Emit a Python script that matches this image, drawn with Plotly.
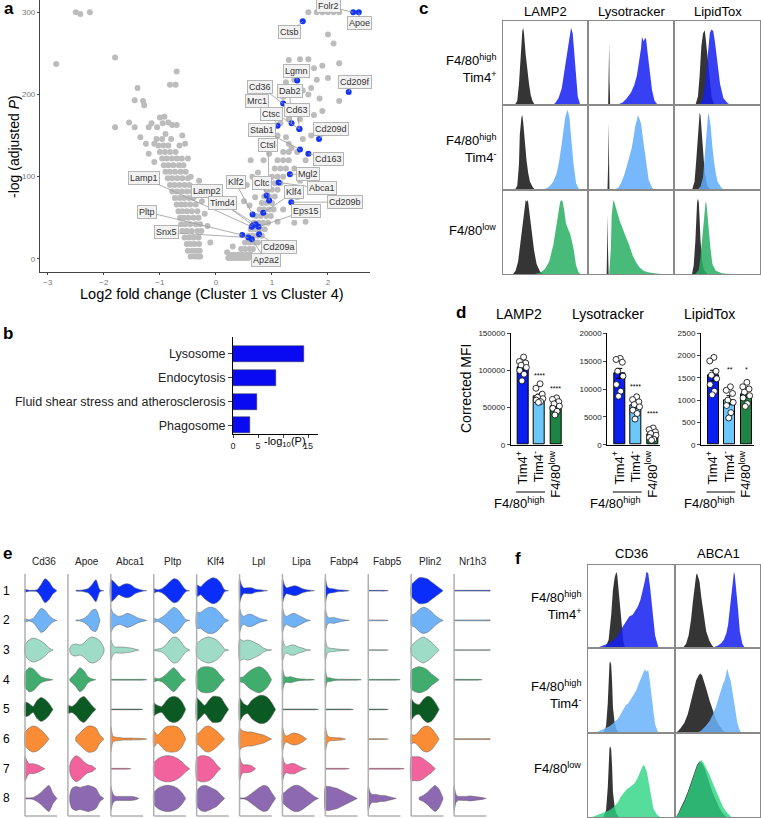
import plotly.graph_objects as go

W, H = 761, 818
FONT = "Liberation Sans, Arial, sans-serif"

# ---------------- a: volcano plot ----------------
grey_pts = [
    (-0.45, 3), (-0.38, 3), (-0.32, 3), (-0.28, 3),
    (-0.50, 10), (-0.42, 10), (-0.35, 10), (-0.29, 10),
    (-0.52, 18), (-0.45, 18), (-0.38, 18), (-0.30, 18),
    (-0.56, 26), (-0.48, 26), (-0.40, 26), (-0.31, 26),
    (-0.60, 34), (-0.52, 34), (-0.43, 34), (-0.33, 34), (-0.26, 34),
    (-0.62, 42), (-0.55, 42), (-0.46, 42), (-0.36, 42), (-0.28, 42),
    (-0.64, 50), (-0.57, 50), (-0.49, 50), (-0.40, 50), (-0.31, 50),
    (-0.67, 58), (-0.60, 58), (-0.52, 58), (-0.43, 58), (-0.33, 58),
    (-0.70, 66), (-0.62, 66), (-0.55, 66), (-0.46, 66), (-0.36, 66),
    (-0.73, 74), (-0.65, 74), (-0.57, 74), (-0.48, 74), (-0.40, 74),
    (-0.78, 82), (-0.70, 82), (-0.61, 82), (-0.52, 82), (-0.43, 82),
    (-0.82, 90), (-0.74, 90), (-0.65, 90), (-0.56, 90), (-0.47, 90),
    (-0.86, 98), (-0.78, 98), (-0.69, 98), (-0.60, 98), (-0.50, 98),
    (-0.90, 106), (-0.82, 106), (-0.73, 106), (-0.63, 106), (-0.54, 106),
    (-0.93, 114), (-0.85, 114), (-0.76, 114), (-0.66, 114), (-0.58, 114),
    (-0.96, 122), (-0.88, 122), (-0.79, 122), (-0.70, 122), (-0.61, 122),
    (-1.00, 130), (-0.91, 130), (-0.82, 130), (-0.72, 130),
    (-1.03, 138), (-0.94, 138), (-0.85, 138), (-0.65, 138),
    (-1.06, 146), (-0.96, 146), (-0.80, 146),
    (-1.20, 160), (-1.15, 165), (-1.05, 160), (-1.00, 172), (-0.92, 173),
    (-0.85, 166), (-0.78, 163), (-0.70, 163), (-0.60, 150), (-0.55, 140),
    (-0.50, 122), (-0.45, 100), (-0.30, 95), (-0.30, 80), (-1.55, 166),
    (-1.45, 160), (-1.35, 148), (-1.25, 140), (-1.20, 128), (-1.10, 118),
    (-1.40, 208), (-1.45, 193), (-1.30, 192), (-1.28, 187), (-0.70, 228),
    (-0.82, 212), (-0.72, 212), (-1.80, 160), (-1.80, 245), (-2.85, 237),
    (-2.50, 300), (-2.42, 298), (-2.25, 300), (-0.90, 152), (-1.10, 140),
    (-0.95, 165), (-0.15, 40), (-0.20, 55), (-0.25, 70), (-0.10, 20),
    (0.22, 1), (0.28, 1), (0.33, 1), (0.38, 1), (0.43, 1), (0.48, 1), (0.53, 1), (0.58, 1),
    (0.25, 5), (0.32, 5), (0.40, 5), (0.47, 5), (0.55, 5), (0.62, 5),
    (0.45, 12), (0.52, 12), (0.60, 12), (0.66, 12),
    (0.52, 20), (0.60, 20), (0.68, 20), (0.75, 20),
    (0.58, 28), (0.66, 28), (0.74, 28), (0.82, 28),
    (0.62, 36), (0.70, 36), (0.78, 36), (0.87, 36),
    (0.68, 44), (0.76, 44), (0.84, 44), (0.93, 44),
    (0.72, 52), (0.80, 52), (0.90, 52), (0.98, 52),
    (0.78, 60), (0.86, 60), (0.95, 60), (1.03, 60),
    (0.82, 68), (0.90, 68), (1.00, 68),
    (0.86, 76), (0.95, 76), (1.05, 76),
    (0.90, 84), (1.00, 84), (1.10, 84),
    (0.95, 92), (1.05, 92), (1.15, 92),
    (1.00, 100), (1.10, 100), (1.20, 100),
    (1.05, 110), (1.15, 110), (1.25, 110),
    (1.10, 120), (1.20, 120), (1.30, 120),
    (1.20, 130), (1.30, 130),
    (0.60, 65), (0.50, 70), (0.70, 75), (0.55, 90), (0.65, 100), (0.75, 105),
    (0.62, 120), (0.85, 120), (0.95, 128), (1.00, 140), (1.10, 150), (1.25, 148),
    (1.55, 146), (1.35, 135), (1.45, 130), (1.60, 120), (1.30, 140), (1.15, 165),
    (1.30, 170), (1.50, 170), (1.60, 178), (1.45, 185), (1.20, 197), (1.35, 200),
    (1.25, 215), (1.40, 218), (1.55, 205), (1.65, 200), (1.70, 208), (1.85, 195),
    (2.20, 192), (1.80, 218), (2.00, 220), (1.60, 228), (1.75, 232), (1.90, 235),
    (1.30, 242), (1.50, 243), (1.65, 243), (2.20, 238), (2.10, 262), (2.00, 273),
    (1.80, 300), (1.90, 300), (2.00, 300), (2.10, 300), (2.20, 300), (1.65, 300),
    (1.40, 44), (1.60, 45), (1.55, 60), (1.45, 75), (1.30, 85), (1.20, 60),
    (1.10, 45), (1.40, 110), (1.50, 95), (1.70, 150), (1.75, 175), (1.90, 180),
    (0.30, 15), (0.20, 8),
]
grey_x = [p[0] for p in grey_pts]
grey_y = [p[1] for p in grey_pts]

hit_genes = ["Folr2", "Apoe", "Ctsb", "Lgmn", "Cd209f", "Cd36", "Dab2", "Mrc1", "Cd63",
             "Ctsc", "Cd209d", "Stab1", "Cd163", "Ctsl", "Mgl2", "Abca1", "Cltc", "Klf4",
             "Klf2", "Cd209b", "Eps15", "Lamp1", "Lamp2", "Timd4", "Pltp", "Snx5",
             "Cd209a", "Ap2a2"]
hit_x = [2.45, 2.55, 1.55, 1.45, 2.37, 1.20, 1.35, 1.49, 1.49, 1.10, 1.84, 1.50, 1.65,
         0.95, 1.32, 1.12, 0.905, 0.845, 0.655, 1.345, 0.76, 0.64, 0.66, 0.71, 0.47,
         0.58, 0.77, 0.64]
hit_y = [300, 300, 289, 217, 203, 189, 165, 158, 158, 162, 146, 133, 128, 71, 103, 93,
         77, 56, 54, 69, 39, 39, 41, 42, 29, 26, 30, 24]

# label box offsets from each point (pixels)
LABEL_OFFSET = {
    "Folr2": (-25, -6), "Apoe": (1, 11), "Ctsb": (-13, 11), "Lgmn": (-1, -10),
    "Cd209f": (6, -10), "Cd36": (-23, -17), "Dab2": (-2, -32), "Mrc1": (-42, -28),
    "Cd63": (-2, -19), "Ctsc": (-6, -12), "Cd209d": (12, -10), "Stab1": (-38, -20),
    "Cd163": (20, 5), "Ctsl": (-1, -56), "Mgl2": (18, 0), "Abca1": (43, 6),
    "Cltc": (-5, -13), "Klf4": (31, -21), "Klf2": (-17, -32), "Cd209b": (54, 0),
    "Eps15": (47, -16), "Lamp1": (-108, -49), "Lamp2": (-46, -34), "Timd4": (-33, -21),
    "Pltp": (-95, -23), "Snx5": (-82, -5), "Cd209a": (20, 13), "Ap2a2": (14, 21),
}

# ---------------- b: KEGG pathways ----------------
b_terms = ["Lysosome", "Endocytosis", "Fluid shear stress and atherosclerosis", "Phagosome"]
b_logp = [14.2, 8.6, 4.8, 3.4]

# ---------------- c: flow histograms ----------------
c_markers = ["LAMP2", "Lysotracker", "LipidTox"]
pop_labels = ["F4/80<sup>high</sup><br>Tim4<sup>+</sup>",
              "F4/80<sup>high</sup><br>Tim4<sup>-</sup>",
              "F4/80<sup>low</sup>"]
c_ctrl = {
    ("LAMP2", 0): ([14, 17, 19, 21, 23, 24, 25, 27, 29, 31, 33, 35, 38],
                   [0, 5, 25, 60, 88, 92, 85, 60, 40, 25, 12, 5, 0]),
    ("Lysotracker", 0): ([22.8, 23.6, 24, 24.4, 25.2], [0, 30, 74, 30, 0]),
    ("LipidTox", 0): ([24, 27, 29, 31, 33, 34, 35, 36, 38, 40, 43, 46],
                      [0, 10, 35, 70, 85, 88, 89, 80, 60, 35, 10, 0]),
    ("LAMP2", 1): ([14, 17, 19, 20, 22, 23, 24, 26, 28, 30, 32, 35, 38],
                   [0, 5, 30, 65, 86, 88, 80, 55, 35, 20, 10, 4, 0]),
    ("Lysotracker", 1): ([22, 22.8, 23.2, 23.6, 24.4], [0, 30, 79, 30, 0]),
    ("LipidTox", 1): ([20, 23, 25, 27, 28, 29, 30, 31, 33, 35, 38, 42],
                      [0, 10, 35, 70, 86, 91, 88, 75, 45, 20, 5, 0]),
    ("LAMP2", 2): ([12, 15, 18, 21, 24, 26, 27, 28, 29, 30, 32, 34, 37, 40, 44, 48],
                   [0, 4, 15, 40, 70, 84, 88, 86, 88, 85, 70, 50, 28, 12, 3, 0]),
    ("Lysotracker", 2): ([21, 21.8, 22.2, 22.6, 23.4], [0, 30, 70, 30, 0]),
    ("LipidTox", 2): ([20, 22, 24, 25, 26, 27, 28, 29, 30, 32, 34, 38],
                      [0, 10, 40, 70, 85, 90, 85, 65, 40, 15, 5, 0]),
}
c_stain = {
    ("LAMP2", 0): ([58, 62, 66, 70, 73, 76, 78, 80, 81, 83, 85, 87, 89, 92],
                   [0, 2, 8, 20, 40, 60, 75, 88, 92, 85, 60, 35, 10, 0]),
    ("Lysotracker", 0): ([30, 35, 40, 45, 50, 54, 57, 60, 62, 63, 65, 67, 68, 70, 72, 75, 78, 82],
                         [0, 1, 3, 8, 15, 24, 35, 52, 68, 81, 76, 80, 78, 60, 40, 18, 5, 0]),
    ("LipidTox", 0): ([28, 32, 35, 37, 39, 41, 43, 45, 47, 50, 53, 57, 62, 66],
                      [0, 5, 20, 45, 70, 86, 90, 88, 75, 50, 25, 8, 2, 0]),
    ("LAMP2", 1): ([45, 52, 56, 60, 64, 67, 70, 72, 74, 76, 77, 79, 81, 84, 87, 91],
                   [0, 2, 5, 10, 20, 35, 55, 72, 85, 92, 94, 86, 65, 30, 8, 0]),
    ("Lysotracker", 1): ([30, 35, 38, 42, 45, 48, 51, 53, 55, 57, 58, 60, 62, 64, 66, 68, 71, 75, 78],
                         [0, 3, 8, 18, 28, 40, 50, 62, 75, 82, 88, 84, 78, 62, 48, 30, 12, 3, 0]),
    ("LipidTox", 1): ([26, 30, 33, 35, 37, 38, 39, 40, 42, 44, 47, 50, 55, 60],
                      [0, 4, 15, 40, 70, 85, 90, 88, 75, 50, 25, 10, 2, 0]),
    ("LAMP2", 2): ([38, 45, 50, 55, 60, 63, 66, 68, 70, 71, 73, 75, 78, 80, 84, 87, 90, 92],
                   [0, 2, 6, 15, 35, 55, 75, 86, 88, 86, 75, 60, 52, 48, 30, 10, 2, 0]),
    ("Lysotracker", 2): ([24, 26, 27, 28, 29, 30, 32, 34, 37, 40, 44, 48, 52, 56, 60, 65, 70, 78, 85],
                         [0, 30, 70, 85, 88, 86, 80, 72, 62, 55, 44, 34, 22, 14, 8, 4, 2, 1, 0]),
    ("LipidTox", 2): ([24, 28, 30, 32, 34, 35, 36, 37, 38, 40, 42, 44, 48, 55, 65],
                      [0, 5, 20, 45, 70, 80, 86, 84, 75, 50, 28, 12, 4, 1, 0]),
}

# ---------------- d: corrected MFI ----------------
d_assays = ["LAMP2", "Lysotracker", "LipidTox"]
d_groups = ["Tim4<sup>+</sup>", "Tim4<sup>-</sup>", "F4/80<sup>low</sup>"]
d_means = {"LAMP2": [104000, 65000, 52000],
           "Lysotracker": [12800, 7000, 1900],
           "LipidTox": [1550, 1000, 1140]}
d_sem = {"LAMP2": [3500, 3000, 2500],
         "Lysotracker": [900, 450, 300],
         "LipidTox": [120, 100, 80]}
d_points = {
    "LAMP2": [[118000, 112000, 110000, 107000, 104000, 100000, 95000, 86000],
              [82000, 76000, 68000, 64000, 62000, 60000, 58000, 57000],
              [63000, 61000, 58000, 55000, 52000, 49000, 45000, 40000]],
    "Lysotracker": [[15500, 15300, 14800, 13200, 12300, 10800, 9600, 8700],
                    [8600, 8100, 7700, 7200, 6800, 6200, 5600, 4600],
                    [3000, 2700, 2300, 2000, 1700, 1300, 1000, 800]],
    "LipidTox": [[1960, 1880, 1650, 1560, 1480, 1350, 1200, 1120],
                 [1300, 1220, 1150, 1000, 950, 880, 720, 600],
                 [1400, 1300, 1250, 1180, 1100, 1050, 920, 860]],
}
d_stars = {"LAMP2": ["", "****", "****"],
           "Lysotracker": ["", "****", "****"],
           "LipidTox": ["", "**", "*"]}
d_star_y = {"LAMP2": [0, 93000, 76000],
            "Lysotracker": [0, 10500, 5600],
            "LipidTox": [0, 1680, 1680]}
d_ymax = {"LAMP2": 150000, "Lysotracker": 20000, "LipidTox": 2500}
d_ticks = {"LAMP2": [0, 50000, 100000, 150000],
           "Lysotracker": [0, 5000, 10000, 15000, 20000],
           "LipidTox": [0, 500, 1000, 1500, 2000, 2500]}

# ---------------- e: violin plots ----------------
e_genes = ["Cd36", "Apoe", "Abca1", "Pltp", "Klf4", "Lpl", "Lipa", "Fabp4", "Fabp5", "Plin2", "Nr1h3"]
e_clusters = ["1", "2", "3", "4", "5", "6", "7", "8"]
e_grid = [0, 2, 4, 8, 12, 16, 20, 24, 28, 32, 36]   # expression axis (px-scaled)
T = 0.4  # thin line (no expression)
e_profiles = {
    "Cd36": [[1.5, 1, 0.5, 0.5, 1, 6, 12, 9, 3, 0, 0],
             [1.5, 1, 0.6, 2, 7, 12, 10, 5, 1.5, 0, 0],
             [5, 8, 10, 12, 11, 9, 6, 2, 0, 0, 0],
             [8, 10, 12, 11, 7, 3, 1.5, 0.8, 0, 0, 0],
             [7, 7, 6, 3, 9, 12, 10, 6, 0, 0, 0],
             [7, 9, 11, 13, 12, 9, 5, 0, 0, 0, 0],
             [12, 8, 5, 5, 4, 2, 0, 0, 0, 0, 0],
             [0.5, 0.5, 0.5, 1, 3, 6, 10, 13, 5, 0, 0]],
    "Apoe": [[0, 0, 0, 0.3, 0.5, 1, 2, 6, 11, 1, 0],
             [0, 0, 0, 0.3, 0.5, 2, 5, 10, 11, 0, 0],
             [0, 2, 5, 6, 5, 7, 11, 13, 12, 9, 2],
             [0, 1, 3, 7, 12, 9, 3, 1, 0, 0, 0],
             [4, 3.5, 3, 6, 11, 13, 9, 4, 0, 0, 0],
             [0, 0, 0, 2, 6, 10, 13, 13, 11, 4, 0],
             [0, 4, 9, 13, 11, 7, 4, 3, 0, 0, 0],
             [0, 4, 10, 12, 11, 12, 13, 12, 10, 3, 0]],
    "Abca1": [[11, 10, 8, 4, 6, 7, 6, 3, 1.5, 0.5, 0],
              [12, 8, 6, 4, 5, 7, 6, 4, 2, 1, 0],
              [10, 5, 3, 3, 3, 2.5, 2, 1, 0, 0, 0],
              [T, T, T, T, T, T, T, T, T, T, 0],
              [T, T, T, T, T, T, T, T, T, 0, 0],
              [13, 3, 2, 1.5, 1, 1, 1, 0.8, 0.8, 0.5, 0],
              [T, T, T, T, T, T, 0, 0, 0, 0, 0],
              [12, 5, 2.5, 2, 2, 2, 2, 1.5, 0, 0, 0]],
    "Pltp": [[2.5, 1.5, 1, 2, 5, 9, 12, 11, 6, 1, 0],
             [2, 1.5, 1, 3, 6, 10, 13, 11, 6, 1, 0],
             [0.5, 0.7, 1, 2, 5, 10, 13, 12, 7, 2, 0],
             [2, 1.5, 1, 2, 5, 9, 12, 8, 3, 0, 0],
             [7, 5, 4, 3, 8, 12, 13, 12, 8, 0, 0],
             [8, 6, 4, 8, 12, 13, 13, 12, 8, 0, 0],
             [6, 8, 10, 12, 13, 13, 12, 10, 7, 3, 0],
             [6, 8, 10, 12, 13, 13, 12, 10, 6, 0, 0]],
    "Klf4": [[6, 5, 4, 8, 11, 13, 12, 8, 1, 0, 0],
             [8, 8, 8, 11, 13, 13, 11, 7, 2, 0, 0],
             [6, 8, 10, 12, 13, 12, 10, 6, 1, 0, 0],
             [8, 10, 12, 13, 13, 12, 9, 4, 0, 0, 0],
             [12, 10, 8, 4, 9, 13, 13, 12, 6, 0, 0],
             [5, 6, 8, 12, 13, 11, 8, 4, 0, 0, 0],
             [11, 12, 13, 13, 12, 9, 4, 0, 0, 0, 0],
             [7, 10, 12, 13, 12, 10, 8, 4, 0, 0, 0]],
    "Lpl": [[12, 6, 3, 3, 3, 1.5, 1, 0.5, 0, 0, 0],
            [12, 6, 4, 6, 6, 4, 2, 1, 0, 0, 0],
            [11, 10, 9, 10, 9, 7, 5, 2, 0.5, 0, 0],
            [2, 2.5, 3, 7, 10, 12, 13, 11, 7, 0, 0],
            [12, 9, 6, 4, 9, 12, 14, 14, 12, 7, 0],
            [11, 9, 8, 7, 7, 6, 5, 4, 2, 0, 0],
            [12, 6, 4, 4, 3, 0, 0, 0, 0, 0, 0],
            [0.5, 0.5, 0.5, 2, 5, 8, 11, 13, 12, 6, 0]],
    "Lipa": [[12, 6, 3, 4, 5, 4, 2, 1, 0.5, 0, 0],
             [12, 6, 4, 6, 7, 5, 3, 1, 0, 0, 0],
             [11, 5, 3, 5, 5, 3, 2, 0.5, 0, 0, 0],
             [11, 4, 2.5, 3, 2, 1, 0.7, 0.5, 0.4, 0, 0],
             [T, T, T, T, T, T, T, T, T, T, 0],
             [12, 5, 3, 5, 6, 5, 3, 0, 0, 0, 0],
             [12, 6, 4, 5, 5, 3, 1, 0, 0, 0, 0],
             [5, 6, 8, 11, 13, 13, 11, 8, 5, 2, 0]],
    "Fabp4": [[12, 4, 2.5, 2, 1, 0.8, 0.5, 0, 0, 0, 0],
              [11, 4, 2.5, 3, 2, 1, 0.5, 0, 0, 0, 0],
              [10, 3, 2, 1.5, 1, 0.6, 0.4, 0, 0, 0, 0],
              [9, 2, 2, 1, 0.6, 0.5, 0.5, 0.4, 0.4, 0.4, 0],
              [T, T, T, T, T, T, T, T, 0, 0, 0],
              [12, 4, 2, 1.5, 1.2, 1, 0, 0, 0, 0, 0],
              [T, T, T, T, T, T, T, 0, 0, 0, 0],
              [12, 12, 12, 11, 10, 8, 6, 4, 2, 0, 0]],
    "Fabp5": [[T, T, T, T, T, T, 0, 0, 0, 0, 0],
              [T, T, T, T, T, T, 0, 0, 0, 0, 0],
              [T, T, T, T, T, T, 0, 0, 0, 0, 0],
              [T, T, T, T, T, T, T, T, T, 0, 0],
              [T, T, T, T, T, T, 0, 0, 0, 0, 0],
              [T, T, T, T, T, T, 0, 0, 0, 0, 0],
              [T, T, T, T, T, T, T, T, T, T, 0],
              [12, 6, 4, 4, 3, 3, 2, 1, 0, 0, 0]],
    "Plin2": [[6, 8, 10, 13, 13, 12, 9, 6, 3, 0, 0],
              [5, 6, 7, 11, 13, 12, 9, 5, 2, 0, 0],
              [4, 6, 8, 11, 13, 11, 8, 4, 0, 0, 0],
              [9, 11, 12, 13, 12, 10, 6, 3, 0, 0, 0],
              [11, 8, 6, 5, 10, 13, 12, 7, 0, 0, 0],
              [5, 4, 4, 8, 12, 13, 11, 6, 0, 0, 0],
              [12, 12, 12, 12, 10, 7, 4, 0, 0, 0, 0],
              [0, 0, 0, 1, 3, 6, 10, 13, 9, 0, 0]],
    "Nr1h3": [[T, T, T, T, T, T, T, T, T, T, T],
              [T, T, T, T, T, T, T, T, T, T, T],
              [T, T, T, T, T, T, T, T, T, T, T],
              [T, T, T, T, T, T, T, T, 0, 0, 0],
              [0, 0, 0, 0, 0, 0, 0, 0, 0, 0, 0],
              [T, T, T, T, T, T, T, T, T, T, T],
              [0, 0, 0, 0, 0, 0, 0, 0, 0, 0, 0],
              [12, 4, 2, 2, 2, 2.5, 2, 1.5, 1, 0, 0]],
}

# ---------------- f: CD36 / ABCA1 histograms ----------------
f_markers = ["CD36", "ABCA1"]
f_ctrl = {
    ("CD36", 0): ([20, 24, 27, 29, 31, 32, 33, 34, 35, 37, 39, 41, 43],
                  [0, 10, 40, 70, 85, 90, 92, 88, 75, 50, 25, 8, 0]),
    ("ABCA1", 0): ([8, 12, 15, 18, 20, 22, 24, 25, 26, 28, 30, 33, 36, 40, 43, 46],
                   [0, 5, 15, 35, 55, 75, 88, 90, 86, 80, 62, 40, 20, 8, 3, 0]),
    ("CD36", 1): ([18, 21, 23, 24, 25, 26, 27, 28, 29, 31, 33, 36],
                  [0, 8, 35, 65, 82, 84, 80, 60, 30, 12, 4, 0]),
    ("ABCA1", 1): ([0, 5, 10, 14, 18, 21, 24, 27, 29, 31, 33, 36, 40, 44, 48, 52, 56, 60],
                   [0, 5, 12, 22, 38, 52, 62, 68, 70, 68, 62, 52, 38, 25, 15, 8, 3, 0]),
    ("CD36", 2): ([18, 21, 23, 24, 25, 26, 27, 28, 29, 31, 33, 36],
                  [0, 8, 35, 65, 82, 84, 80, 60, 30, 12, 4, 0]),
    ("ABCA1", 2): ([0, 3, 6, 10, 14, 18, 22, 25, 28, 31, 34, 37, 40, 44, 48, 52, 56, 60],
                   [0, 5, 12, 20, 30, 42, 55, 62, 66, 64, 58, 50, 40, 28, 18, 10, 4, 0]),
}
f_stain = {
    ("CD36", 0): ([10, 15, 20, 25, 30, 35, 40, 45, 48, 52, 55, 58, 61, 64, 66, 68, 70, 72, 75, 78, 82],
                  [0, 2, 4, 6, 10, 15, 25, 33, 38, 40, 45, 50, 58, 70, 80, 92, 90, 75, 45, 15, 0]),
    ("ABCA1", 0): ([40, 45, 50, 54, 57, 60, 62, 64, 66, 68, 69, 70, 72, 74, 76, 79, 82],
                   [0, 1, 3, 6, 10, 18, 28, 45, 65, 85, 92, 88, 70, 45, 20, 5, 0]),
    ("CD36", 1): ([8, 15, 20, 25, 30, 35, 38, 41, 44, 47, 50, 53, 56, 59, 62, 64, 66, 68, 70, 72, 75, 78, 82],
                  [0, 3, 5, 8, 12, 17, 22, 28, 33, 35, 40, 46, 50, 58, 65, 70, 75, 72, 74, 60, 35, 10, 0]),
    ("ABCA1", 1): ([25, 30, 35, 40, 44, 48, 51, 54, 56, 58, 60, 61, 63, 65, 67, 70, 73, 76, 78],
                   [0, 3, 8, 14, 22, 32, 42, 52, 58, 62, 70, 76, 68, 62, 50, 30, 12, 3, 0]),
    ("CD36", 2): ([5, 10, 15, 20, 25, 30, 35, 38, 42, 45, 48, 51, 54, 57, 60, 62, 64, 66, 68, 70, 73, 76, 80, 84],
                  [0, 2, 4, 6, 8, 12, 18, 24, 30, 33, 35, 37, 40, 45, 52, 58, 62, 60, 55, 45, 25, 10, 3, 0]),
    ("ABCA1", 2): ([0, 3, 6, 10, 14, 18, 22, 25, 28, 30, 33, 36, 40, 44, 48, 52, 56, 60, 64, 66],
                   [0, 4, 10, 18, 28, 40, 52, 60, 66, 68, 64, 58, 50, 40, 30, 20, 12, 6, 2, 0]),
}

# ---------------- styles ----------------
CTRL_FILL = "rgba(25,25,25,0.88)"
C_FILL = ["rgba(20,30,240,0.85)", "rgba(95,170,250,0.85)", "rgba(40,175,100,0.85)"]
F_FILL = ["rgba(20,30,240,0.85)", "rgba(105,178,250,0.85)", "rgba(45,212,130,0.8)"]
D_COLORS = ["#0a1ef0", "#6cc8fb", "#1e8444"]
E_COLORS = ["#0a2dfa", "#6fb2f5", "#9fdcc8", "#40ad6e", "#0b5a24", "#fb8c36", "#f2629c", "#8c69b0"]
JIT = [0.05, -0.2, 0.18, -0.1, 0.22, -0.18, 0.08, -0.05]

fig = go.Figure()
axes = {}
annotations = []
shapes = []


def add_axes(n, xd, yd, xkw, ykw):
    s = "" if n == 1 else str(n)
    base = dict(showgrid=False, zeroline=False, automargin=False)
    axes["xaxis" + s] = dict(domain=[xd[0] / W, xd[1] / W], anchor="y" + s, **base, **xkw)
    axes["yaxis" + s] = dict(domain=[1 - yd[1] / H, 1 - yd[0] / H], anchor="x" + s, **base, **ykw)
    return "x" + s, "y" + s


def note(text, x, y, size=13, **kw):
    d = dict(text=text, x=x / W, y=1 - y / H, xref="paper", yref="paper", showarrow=False,
             xanchor="center", yanchor="middle",
             font=dict(size=size, color=kw.pop("color", "black"), family=FONT))
    d.update(kw)
    annotations.append(d)


def box_axes(n, xd, yd):
    frame = dict(range=[0, 100], showline=True, mirror=True, linecolor="#8a8a8a",
                 linewidth=1, showticklabels=False, ticks="")
    return add_axes(n, xd, yd, dict(frame), dict(frame))


# ---- a ----
a_line = dict(showline=True, linecolor="#444", linewidth=1.2, ticks="outside", ticklen=2,
              tickcolor="#444", tickfont=dict(size=8, color="#777"))
xa, ya = add_axes(1, (40, 370), (0, 272),
                  dict(range=[-3.14, 2.75], tickvals=[-3, -2, -1, 0, 1, 2], **a_line),
                  dict(range=[-16, 315], tickvals=[0, 100, 200, 300], **a_line))
fig.add_trace(go.Scatter(x=grey_x, y=grey_y, mode="markers", xaxis=xa, yaxis=ya,
                         marker=dict(size=6, color="#bcbcbc")))
for g, x, y in zip(hit_genes, hit_x, hit_y):
    dx, dy = LABEL_OFFSET[g]
    annotations.append(dict(x=x, y=y, xref=xa, yref=ya, text=g, showarrow=True, ax=dx, ay=dy,
                            arrowhead=0, arrowwidth=0.8, arrowcolor="#9a9a9a", standoff=0,
                            font=dict(size=9, color="#333", family=FONT),
                            bgcolor="#f2f2f2", bordercolor="#b5b5b5", borderwidth=1, borderpad=1))
fig.add_trace(go.Scatter(x=hit_x, y=hit_y, mode="markers", xaxis=xa, yaxis=ya,
                         marker=dict(size=6, color="#1535f5")))
note("<b>a</b>", 9, 9, 17)
note("-log (adjusted <i>P</i>)", 14, 147, 14, textangle=-90)
note("Log2 fold change (Cluster 1 vs Cluster 4)", 212, 294, 14.5)

# ---- b ----
xb, yb = add_axes(2, (233, 318), (337, 434),
                  dict(range=[0, 17], showline=True, linecolor="black", linewidth=1, ticks="outside",
                       ticklen=3, tickvals=[0, 5, 10, 15], ticktext=["0", "5", "", "15"],
                       tickfont=dict(size=9, color="#222")),
                  dict(range=[3.36, -0.7], showline=True, linecolor="black", linewidth=1,
                       ticks="outside", ticklen=4, tickvals=list(range(len(b_terms))),
                       ticktext=b_terms, tickfont=dict(size=12.5, color="#222")))
fig.add_trace(go.Bar(x=b_logp, y=list(range(len(b_terms))), orientation="h", width=0.67,
                     xaxis=xb, yaxis=yb, marker=dict(color="#0a0af2", line=dict(color="#333", width=0.5))))
note("<b>b</b>", 8, 333, 17)
note("-log<sub>10</sub>(P)", 285, 442, 11)

# ---- c ----
c_cols = [(503, 587), (589, 673), (675, 760)]
c_rows = [(21, 105), (105, 190), (190, 274)]
c_label_y = [68, 148, 230]
n = 3
for r in range(3):
    for c, m in enumerate(c_markers):
        xc, yc = box_axes(n, c_cols[c], c_rows[r])
        n += 1
        cx, cy = c_ctrl[(m, r)]
        fig.add_trace(go.Scatter(x=cx, y=cy, mode="lines", fill="tozeroy", fillcolor=CTRL_FILL,
                                 line=dict(width=0), xaxis=xc, yaxis=yc))
        sx, sy = c_stain[(m, r)]
        fig.add_trace(go.Scatter(x=sx, y=sy, mode="lines", fill="tozeroy", fillcolor=C_FILL[r],
                                 line=dict(width=0), xaxis=xc, yaxis=yc))
for c, m in enumerate(c_markers):
    note(m, (c_cols[c][0] + c_cols[c][1]) / 2, 12, 13)
for r, lab in enumerate(pop_labels):
    note(lab, 498, c_label_y[r], 13, xanchor="right", align="right")
note("<b>c</b>", 423, 9, 17)

# ---- d ----
d_x0 = [510.7, 607.3, 701]
d_title_x = [519, 608, 709]
for k, a in enumerate(d_assays):
    xd_, yd_ = add_axes(12 + k, (d_x0[k], d_x0[k] + 52.5), (333.3, 444.7),
                        dict(range=[-0.73, 2.45], showline=True, linecolor="black", linewidth=1,
                             ticks="", tickvals=[0, 1, 2], ticktext=d_groups, tickangle=-90,
                             tickfont=dict(size=13, color="black")),
                        dict(range=[0, d_ymax[a]], showline=True, linecolor="black", linewidth=1,
                             ticks="outside", ticklen=3, tickvals=d_ticks[a],
                             ticktext=[str(v) for v in d_ticks[a]],
                             tickfont=dict(size=8, color="#222")))
    fig.add_trace(go.Bar(x=[0, 1, 2], y=d_means[a], width=0.66, xaxis=xd_, yaxis=yd_,
                         marker=dict(color=D_COLORS, line=dict(color="black", width=1)),
                         error_y=dict(type="data", array=d_sem[a], color="black", thickness=1, width=3)))
    for g in range(3):
        pts = d_points[a][g]
        fig.add_trace(go.Scatter(x=[g + JIT[i] for i in range(len(pts))], y=pts, mode="markers",
                                 xaxis=xd_, yaxis=yd_,
                                 marker=dict(size=6, color="white", line=dict(color="black", width=0.8))))
        if d_stars[a][g]:
            annotations.append(dict(x=g, y=d_star_y[a][g], xref=xd_, yref=yd_, text=d_stars[a][g],
                                    showarrow=False, font=dict(size=7, color="black", family=FONT)))
    shapes.append(dict(type="line", xref=xd_, yref="paper", x0=-0.4, x1=1.35,
                       y0=1 - 492 / H, y1=1 - 492 / H, line=dict(color="black", width=1)))
    annotations.append(dict(x=-0.25, y=1 - 503 / H, xref=xd_, yref="paper", text="F4/80<sup>high</sup>",
                            showarrow=False, xanchor="center", yanchor="middle",
                            font=dict(size=13, color="black", family=FONT)))
    note(a, d_title_x[k], 314, 14)
note("<b>d</b>", 461, 312, 17)
note("Corrected MFI", 466, 388, 14, textangle=-90)

# ---- e ----
xe, ye = add_axes(15, (0, 500), (560, 818), dict(range=[-0.583, 11.07], visible=False),
                  dict(range=[7.66, -1.035], visible=False))
for i, gname in enumerate(e_genes):
    shapes.append(dict(type="line", xref=xe, yref=ye, x0=i, x1=i, y0=-0.56, y1=7.59,
                       line=dict(color="#b0b0b0", width=1.5)))
    shapes.append(dict(type="line", xref=xe, yref=ye, x0=i, x1=i + 0.75, y0=7.59, y1=7.59,
                       line=dict(color="#b0b0b0", width=1.5)))
    for r in range(len(e_clusters)):
        prof = e_profiles[gname][r]
        nz = [k for k, h in enumerate(prof) if h > 0]
        if not nz:
            continue
        k0, k1 = nz[0], min(nz[-1] + 1, len(e_grid) - 1)
        us, hs = e_grid[k0:k1 + 1], prof[k0:k1 + 1]
        xs = [i + u / 42.9 for u in us]
        px = xs + xs[::-1] + [xs[0]]
        py = [r - h / 29.67 for h in hs] + [r + h / 29.67 for h in hs[::-1]] + [r - hs[0] / 29.67]
        fig.add_trace(go.Scatter(x=px, y=py, mode="lines", fill="toself", fillcolor=E_COLORS[r],
                                 xaxis=xe, yaxis=ye,
                                 line=dict(color="rgba(95,95,95,0.85)", width=0.6, shape="spline",
                                           smoothing=0.7)))
    annotations.append(dict(x=i + 0.45, y=-1.0, xref=xe, yref=ye, text=gname, showarrow=False,
                            xanchor="center", yanchor="middle",
                            font=dict(size=10, color="#222", family=FONT)))
for r, cl in enumerate(e_clusters):
    annotations.append(dict(x=-0.44, y=r, xref=xe, yref=ye, text=cl, showarrow=False,
                            xanchor="center", yanchor="middle",
                            font=dict(size=12, color="black", family=FONT)))
note("<b>e</b>", 7, 553, 17)

# ---- f ----
f_cols = [(588, 674), (676, 760)]
f_rows = [(565, 648), (648, 733), (733, 817)]
f_label_y = [605, 694, 768]
n = 16
for r in range(3):
    for c, m in enumerate(f_markers):
        xf, yf = box_axes(n, f_cols[c], f_rows[r])
        n += 1
        cx, cy = f_ctrl[(m, r)]
        fig.add_trace(go.Scatter(x=cx, y=cy, mode="lines", fill="tozeroy", fillcolor=CTRL_FILL,
                                 line=dict(width=0), xaxis=xf, yaxis=yf))
        sx, sy = f_stain[(m, r)]
        fig.add_trace(go.Scatter(x=sx, y=sy, mode="lines", fill="tozeroy", fillcolor=F_FILL[r],
                                 line=dict(width=0), xaxis=xf, yaxis=yf))
for c, m in enumerate(f_markers):
    note(m, (f_cols[c][0] + f_cols[c][1]) / 2, 553, 13)
for r, lab in enumerate(pop_labels):
    note(lab, 583, f_label_y[r], 13, xanchor="right", align="right")
note("<b>f</b>", 518, 558, 17)

fig.update_layout(**axes)
fig.update_layout(width=W, height=H, margin=dict(l=0, r=0, t=0, b=0), showlegend=False,
                  plot_bgcolor="white", paper_bgcolor="white", font=dict(family=FONT),
                  annotations=annotations, shapes=shapes, bargap=0, hovermode=False)
# page body has a default 8px margin; drop it so the figure fills the window
fig.write_html("out.html", config={"displayModeBar": False},
               post_script="document.body.style.margin='0px';")
